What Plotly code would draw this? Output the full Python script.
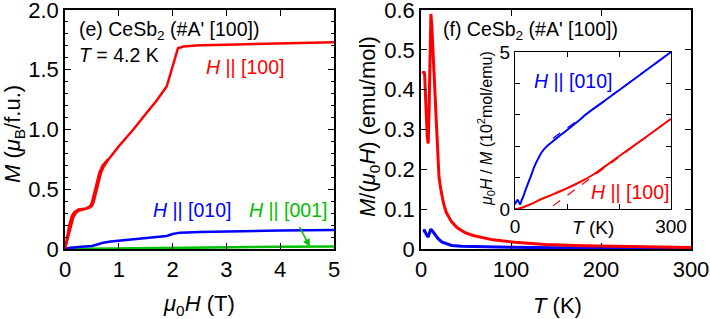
import plotly.graph_objects as go

W, H = 710, 319
def fx(p): return p / W
def fy(p): return 1 - p / H

FONT = "Liberation Sans, Arial, sans-serif"
RED, BLUE, GREEN = "#ff0000", "#0000ff", "#00c000"

# ---------------- Panel (e): M vs mu0H at 4.2 K ----------------
h100_up_H = [0, 0.05, 0.10, 0.15, 0.20, 0.25, 0.30, 0.40, 0.45, 0.50, 0.53, 0.57, 0.62, 0.67, 0.72, 0.80,
             1.00, 1.27, 1.50, 1.70, 1.89, 1.95, 2.03, 2.10, 2.20, 2.50, 3.00, 4.00, 5.00]
h100_up_M = [0, 0.08, 0.18, 0.26, 0.30, 0.32, 0.325, 0.335, 0.345, 0.36, 0.39, 0.46, 0.55, 0.64, 0.69, 0.745,
             0.86, 1.00, 1.13, 1.24, 1.36, 1.45, 1.58, 1.68, 1.695, 1.705, 1.71, 1.72, 1.73]
h100_dn_H = [0, 0.04, 0.08, 0.13, 0.18, 0.25, 0.40, 0.47, 0.50, 0.54, 0.59, 0.64, 0.70, 0.80]
h100_dn_M = [0, 0.10, 0.20, 0.28, 0.31, 0.33, 0.34, 0.36, 0.39, 0.46, 0.55, 0.64, 0.70, 0.75]

h010_H = [0, 0.1, 0.3, 0.5, 0.6, 0.71, 0.85, 1.0, 1.4, 1.89, 2.0, 2.14, 2.5, 3.0, 4.0, 5.0]
h010_M = [0, 0.01, 0.018, 0.025, 0.038, 0.053, 0.063, 0.07, 0.085, 0.109, 0.125, 0.137, 0.142, 0.148, 0.155, 0.16]

h001_H = [0, 1, 2, 3, 4, 5]
h001_M = [0, 0.006, 0.011, 0.015, 0.018, 0.021]

# ---------------- Panel (f): M/(mu0H) vs T ----------------
chi100_T = [2, 3, 4, 5, 6, 7, 8, 9, 10, 11, 12, 13, 14, 15, 16, 17, 18, 19, 20, 22, 25, 28, 34, 40, 49, 58,
            67, 80, 104, 138, 180, 230, 300]
chi100_M = [0.44, 0.445, 0.44, 0.40, 0.33, 0.28, 0.265, 0.35, 0.50, 0.59, 0.56, 0.52, 0.47, 0.43, 0.37,
            0.32, 0.26, 0.21, 0.18, 0.15, 0.115, 0.092, 0.068, 0.054, 0.041, 0.034, 0.029, 0.023, 0.017,
            0.011, 0.008, 0.006, 0.0037]

chi010_T = [2, 4, 6, 8, 9, 11, 13, 15.6, 19, 23, 28, 34, 45, 67, 100, 150, 200, 300]
chi010_M = [0.045, 0.046, 0.036, 0.030, 0.038, 0.050, 0.044, 0.036, 0.026, 0.018, 0.013, 0.009, 0.0068,
            0.0055, 0.0042, 0.0033, 0.0027, 0.002]

# Inset: inverse susceptibility (10^2 mol/emu)
inv010_T = [0, 3, 5, 8, 10, 13, 16, 19, 24, 29, 38, 45, 51, 60, 70, 85, 96, 120, 140, 170, 204, 249, 300]
inv010_V = [0.15, 0.25, 0.29, 0.20, 0.15, 0.29, 0.40, 0.55, 0.77, 0.98, 1.38, 1.62, 1.80, 1.98, 2.12,
            2.32, 2.46, 2.78, 3.06, 3.42, 3.83, 4.38, 5.0]
inv100_T = [0, 5, 13, 30, 50, 75, 100, 125, 150, 175, 200, 250, 300]
inv100_V = [0.0, 0.01, 0.04, 0.15, 0.31, 0.48, 0.66, 0.86, 1.09, 1.38, 1.68, 2.27, 2.87]

fit010_T = [73, 300]
fit010_V = [2.25, 5.0]
fit100_T = [73, 300]
fit100_V = [0.10, 2.87]

fig = go.Figure()
def line(x, y, ax, color, width, dash=None, shape="linear"):
    fig.add_trace(go.Scatter(x=x, y=y, xaxis=ax[0], yaxis=ax[1], mode="lines",
                             line=dict(color=color, width=width, dash=dash, shape=shape),
                             hoverinfo="skip"))

line(h001_H, h001_M, ("x", "y"), GREEN, 2.5)
line(h010_H, h010_M, ("x", "y"), BLUE, 2.5)
line(h100_dn_H, h100_dn_M, ("x", "y"), RED, 2.5)
line(h100_up_H, h100_up_M, ("x", "y"), RED, 2.5)

line(chi010_T, chi010_M, ("x2", "y2"), BLUE, 3)
line(chi100_T, chi100_M, ("x2", "y2"), RED, 3)

line(fit010_T, fit010_V, ("x3", "y3"), BLUE, 1.2, "dash")
line(fit100_T, fit100_V, ("x3", "y3"), RED, 1.2, "dash")
line(inv010_T, inv010_V, ("x3", "y3"), BLUE, 2, shape="spline")
line(inv100_T, inv100_V, ("x3", "y3"), RED, 2, shape="spline")

common = dict(showline=True, linecolor="black", linewidth=1.5, mirror="ticks", ticks="inside",
              ticklen=6, tickwidth=1.3, tickcolor="black", showgrid=False, zeroline=False,
              automargin=False, ticklabeloverflow="allow",
              tickfont=dict(size=22, color="black", family=FONT))
inset = dict(common)
inset.update(tickfont=dict(size=19, color="black", family=FONT), ticklen=5, linewidth=1.3)

fig.update_layout(
    width=W, height=H, margin=dict(l=0, r=0, t=0, b=0),
    paper_bgcolor="white", plot_bgcolor="white", showlegend=False,
    font=dict(family=FONT, color="black"),
    xaxis=dict(domain=[fx(65), fx(334)], range=[0, 5], anchor="y",
               tickvals=[0, 1, 2, 3, 4, 5], **common),
    yaxis=dict(domain=[fy(249), fy(10)], range=[0, 2], anchor="x",
               tickvals=[0, 0.5, 1, 1.5, 2], ticktext=["0", "0.5", "1.0", "1.5", "2.0"],
               minor=dict(dtick=0.1, tick0=0, ticklen=3, ticks="inside", tickcolor="black"), **common),
    xaxis2=dict(domain=[fx(421), fx(691)], range=[0, 300], anchor="y2",
                tickvals=[0, 100, 200, 300], **common),
    yaxis2=dict(domain=[fy(249), fy(10)], range=[0, 0.6], anchor="x2",
                tickvals=[0, 0.1, 0.2, 0.3, 0.4, 0.5, 0.6],
                ticktext=["0", "0.1", "0.2", "0.3", "0.4", "0.5", "0.6"], **common),
    xaxis3=dict(domain=[fx(515), fx(671)], range=[0, 300], anchor="y3",
                tickvals=[0, 100, 200, 300], ticktext=["0", "", "", "300"], **inset),
    yaxis3=dict(domain=[fy(209), fy(52)], range=[0, 5], anchor="x3",
                tickvals=[0, 1, 2, 3, 4, 5], ticktext=["0", "", "", "", "", "5"], **inset),
)

def ann(text, x, y, size=19, color="black", xanchor="left", yanchor="middle", angle=0):
    fig.add_annotation(text=text, x=fx(x), y=fy(y), xref="paper", yref="paper", showarrow=False,
                       xanchor=xanchor, yanchor=yanchor, textangle=angle,
                       font=dict(size=size, color=color, family=FONT))

# Axis titles
ann("<i>M</i> (<i>μ</i><sub>B</sub>/f.u.)", 14, 134, size=22, xanchor="center", angle=-90)
ann("<i>μ</i><sub>0</sub><i>H</i> (T)", 199, 305, size=22, xanchor="center")
ann("<i>M</i>/(<i>μ</i><sub>0</sub><i>H</i>) (emu/mol)", 369, 127, size=22, xanchor="center", angle=-90)
ann("<i>T</i> (K)", 557, 305, size=22, xanchor="center")
ann("<i>μ</i><sub>0</sub><i>H</i> / <i>M</i> (10<sup>2</sup>mol/emu)", 486, 129, size=16,
    xanchor="center", angle=-90)
ann("<i>T</i> (K)", 593, 228, size=19, xanchor="center")

# Panel labels
ann("(e) CeSb<sub>2</sub> (#A' [100])", 77, 30, size=19.5)
ann("<i>T</i> = 4.2 K", 77, 55, size=19.5)
ann("<i>H</i> || [100]", 204, 67, size=19.5, color=RED)
ann("<i>H</i> || [010]", 151, 210, size=19.5, color=BLUE)
ann("<i>H</i> || [001]", 247, 210, size=19.5, color=GREEN)
ann("(f) CeSb<sub>2</sub> (#A' [100])", 441, 30, size=19.5)
ann("<i>H</i> || [010]", 532, 81, size=19.5, color=BLUE)
ann("<i>H</i> || [100]", 589, 192, size=19.5, color=RED)

# Green arrow pointing at the [001] curve
fig.add_annotation(x=4.55, y=0.02, xref="x", yref="y", ax=-11, ay=-21, axref="pixel", ayref="pixel",
                   showarrow=True, arrowhead=2, arrowsize=1, arrowwidth=1.5, arrowcolor=GREEN, text="")

fig.write_html("out.html", config={"displayModeBar": False},
               post_script="document.body.style.margin='0px';document.body.style.overflow='hidden';")
